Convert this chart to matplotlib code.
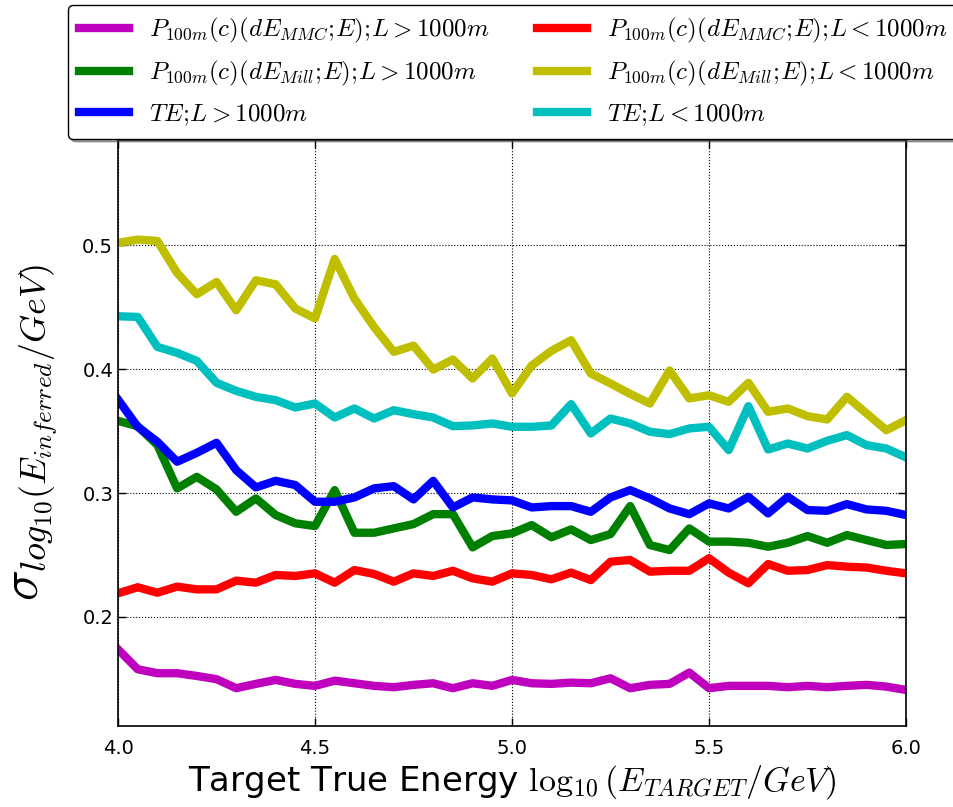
import numpy as np
import matplotlib
matplotlib.use("Agg")
import matplotlib.pyplot as plt

plt.rcParams['mathtext.fontset'] = 'cm'
plt.rcParams['font.family'] = ['DejaVu Sans']

energy = np.round(np.arange(4.0, 6.0001, 0.05), 2)

mmc_long = [0.1739, 0.1578, 0.1546, 0.1546, 0.1524, 0.1498, 0.1425, 0.1460, 0.1492, 0.1460,
            0.1444, 0.1486, 0.1465, 0.1444, 0.1433, 0.1452, 0.1465, 0.1425, 0.1465, 0.1444,
            0.1492, 0.1465, 0.1460, 0.1470, 0.1465, 0.1505, 0.1425, 0.1452, 0.1460, 0.1551,
            0.1425, 0.1444, 0.1444, 0.1444, 0.1433, 0.1444, 0.1433, 0.1444, 0.1452, 0.1438,
            0.1411]
mill_long = [0.3583, 0.3540, 0.3387, 0.3038, 0.3131, 0.3030, 0.2849, 0.2957, 0.2823, 0.2756,
             0.2734, 0.3024, 0.2680, 0.2680, 0.2715, 0.2750, 0.2830, 0.2830, 0.2562, 0.2653,
             0.2675, 0.2742, 0.2643, 0.2707, 0.2621, 0.2669, 0.2895, 0.2581, 0.2540, 0.2715,
             0.2608, 0.2608, 0.2599, 0.2567, 0.2599, 0.2653, 0.2599, 0.2661, 0.2621, 0.2581,
             0.2589]
te_long = [0.3755, 0.3535, 0.3414, 0.3253, 0.3325, 0.3406, 0.3185, 0.3046, 0.3099, 0.3065,
           0.2930, 0.2930, 0.2965, 0.3038, 0.3056, 0.2949, 0.3099, 0.2884, 0.2965, 0.2949,
           0.2941, 0.2884, 0.2895, 0.2895, 0.2849, 0.2965, 0.3024, 0.2957, 0.2876, 0.2830,
           0.2917, 0.2876, 0.2970, 0.2836, 0.2970, 0.2863, 0.2857, 0.2911, 0.2868, 0.2857,
           0.2823]
mmc_short = [0.2191, 0.2240, 0.2196, 0.2245, 0.2223, 0.2223, 0.2293, 0.2277, 0.2339, 0.2331,
             0.2352, 0.2277, 0.2379, 0.2347, 0.2285, 0.2352, 0.2331, 0.2373, 0.2312, 0.2285,
             0.2352, 0.2339, 0.2304, 0.2358, 0.2298, 0.2446, 0.2460, 0.2366, 0.2373, 0.2373,
             0.2474, 0.2358, 0.2272, 0.2427, 0.2373, 0.2379, 0.2419, 0.2406, 0.2399, 0.2373,
             0.2352]
mill_short = [0.5020, 0.5046, 0.5035, 0.4777, 0.4605, 0.4704, 0.4476, 0.4718, 0.4685, 0.4490,
              0.4410, 0.4890, 0.4570, 0.4340, 0.4140, 0.4190, 0.3997, 0.4078, 0.3925, 0.4086,
              0.3805, 0.4030, 0.4148, 0.4234, 0.3965, 0.3885, 0.3800, 0.3723, 0.3990, 0.3764,
              0.3790, 0.3737, 0.3890, 0.3656, 0.3683, 0.3621, 0.3594, 0.3777, 0.3643, 0.3508,
              0.3589]
te_short = [0.4427, 0.4422, 0.4180, 0.4132, 0.4067, 0.3890, 0.3825, 0.3777, 0.3750, 0.3691,
            0.3723, 0.3610, 0.3683, 0.3602, 0.3669, 0.3637, 0.3610, 0.3540, 0.3546, 0.3562,
            0.3535, 0.3535, 0.3546, 0.3718, 0.3481, 0.3602, 0.3562, 0.3495, 0.3476, 0.3522,
            0.3535, 0.3347, 0.3702, 0.3352, 0.3400, 0.3360, 0.3422, 0.3468, 0.3387, 0.3360,
            0.3288]

labels = [r'$P_{100m}(c)(dE_{MMC};\!E);\!L>1000m$',
          r'$P_{100m}(c)(dE_{Mill};\!E);\!L>1000m$',
          r'$TE;\!L>1000m$',
          r'$P_{100m}(c)(dE_{MMC};\!E);\!L<1000m$',
          r'$P_{100m}(c)(dE_{Mill};\!E);\!L<1000m$',
          r'$TE;\!L<1000m$']
series = [mmc_long, mill_long, te_long, mmc_short, mill_short, te_short]
colors = [(0.75, 0, 0.75), (0, 0.5, 0), (0, 0, 1), (1, 0, 0), (0.75, 0.75, 0), (0, 0.75, 0.75)]
# draw order (bottom to top)
draw_order = [4, 5, 3, 1, 2, 0]

W, H = 954, 807
fig = plt.figure(figsize=(W / 100, H / 100), dpi=100)
ax = fig.add_axes([118 / W, 1 - 726 / H, (906 - 118) / W, (726 - 140) / H])

handles = [None] * 6
for i in draw_order:
    handles[i], = ax.plot(energy, series[i], color=colors[i], lw=6, label=labels[i])

ax.set_xlim(4.0, 6.0)
ax.set_ylim(0.112, 0.585)
ax.set_xticks([4.0, 4.5, 5.0, 5.5, 6.0])
ax.set_yticks([0.2, 0.3, 0.4, 0.5])
ax.tick_params(direction='in', top=True, right=True, labelsize=14, length=6, width=1)
ax.tick_params(axis='x', pad=9)
ax.grid(True, color='k', linestyle=':', linewidth=0.8)
for s in ax.spines.values():
    s.set_linewidth(1.2)

ax.set_xlabel(r'Target True Energy $\log_{10}(E_{TARGET}/GeV)$', fontsize=24.5, labelpad=4)
ax.set_ylabel(r'$\sigma_{log_{10}(E_{inferred}/GeV)}$', fontsize=37, labelpad=16)

fig.legend(handles, labels, loc='upper left', bbox_to_anchor=(68 / W, 1 - 5 / H),
           ncol=2, fontsize=18, frameon=True, fancybox=True, shadow=True,
           handlelength=2.0, borderaxespad=0, columnspacing=1.9, labelspacing=0.55,
           borderpad=0.45, edgecolor='k', framealpha=1)

fig.savefig('out.png', dpi=100, facecolor='white')
